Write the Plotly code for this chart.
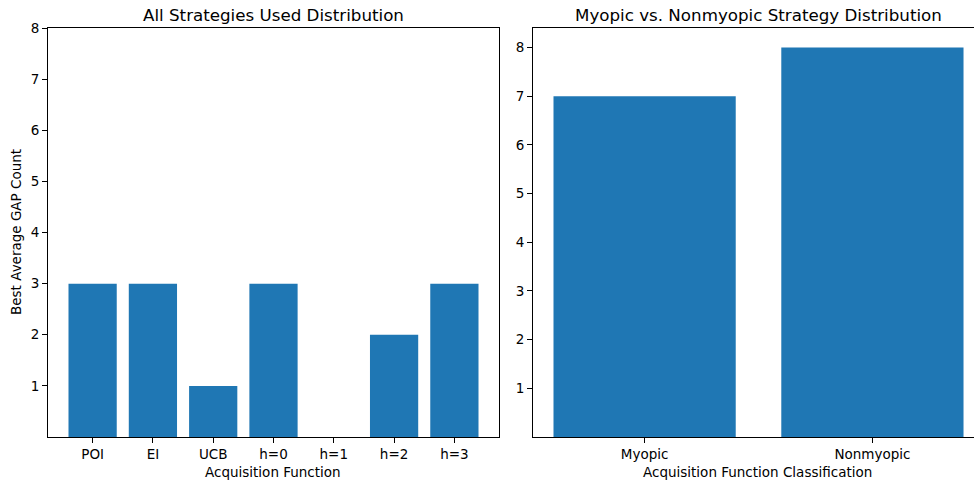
import plotly.graph_objects as go

# Data
strategies = ["POI", "EI", "UCB", "h=0", "h=1", "h=2", "h=3"]
strategy_counts = [3, 3, 1, 3, 0, 2, 3]
classes = ["Myopic", "Nonmyopic"]
class_counts = [7, 8]
y_ticks = [1, 2, 3, 4, 5, 6, 7, 8]

W, H = 974, 481
BLUE = "#1f77b4"
FONT = "DejaVu Sans"

def px_x(p):
    return p / W

def px_y(p):
    return 1 - p / H

fig = go.Figure()
fig.add_trace(go.Bar(x=list(range(len(strategies))), y=strategy_counts, width=0.8,
                     marker=dict(color=BLUE, line=dict(width=0)), xaxis="x", yaxis="y",
                     showlegend=False))
fig.add_trace(go.Bar(x=list(range(len(classes))), y=class_counts, width=0.8,
                     marker=dict(color=BLUE, line=dict(width=0)), xaxis="x2", yaxis="y2",
                     showlegend=False))

ydom = [px_y(437), px_y(28)]
axis_common = dict(showgrid=False, zeroline=False, showline=True, linecolor="black",
                   linewidth=1.1, ticks="outside", ticklen=5, tickwidth=1.1,
                   tickcolor="black", automargin=False,
                   tickfont=dict(family=FONT, size=13.5, color="black"))

fig.update_layout(
    template="none",
    width=W, height=H,
    margin=dict(l=0, r=0, t=0, b=0, pad=0),
    plot_bgcolor="white", paper_bgcolor="white",
    font=dict(family=FONT, color="black"),
    xaxis=dict(domain=[px_x(48), px_x(499)], range=[-0.74, 6.74], anchor="y",
               tickvals=list(range(len(strategies))), ticktext=strategies,
               mirror=True, **axis_common),
    yaxis=dict(domain=ydom, range=[0, 8], anchor="x", tickvals=y_ticks,
               mirror=True, **axis_common),
    xaxis2=dict(domain=[px_x(533), 1.0], range=[-0.49, 1.446], anchor="y2",
                tickvals=list(range(len(classes))), ticktext=classes,
                mirror=True, **axis_common),
    yaxis2=dict(domain=ydom, range=[0, 8.4], anchor="x2", tickvals=y_ticks,
                mirror=False, **axis_common),
)

annos = [
    dict(text="All Strategies Used Distribution", x=px_x(273), y=px_y(15), size=16.7),
    dict(text="Myopic vs. Nonmyopic Strategy Distribution", x=px_x(758), y=px_y(15), size=16.7),
    dict(text="Acquisition Function", x=px_x(273), y=px_y(472), size=13.5),
    dict(text="Acquisition Function Classification", x=px_x(757), y=px_y(472), size=13.5),
]
for a in annos:
    fig.add_annotation(text=a["text"], x=a["x"], y=a["y"], xref="paper", yref="paper",
                       showarrow=False, xanchor="center", yanchor="middle",
                       font=dict(family=FONT, size=a["size"], color="black"))
fig.add_annotation(text="Best Average GAP Count", x=px_x(16), y=px_y(232), xref="paper",
                   yref="paper", showarrow=False, textangle=-90, xanchor="center",
                   yanchor="middle", font=dict(family=FONT, size=13.5, color="black"))

fig.write_html("out.html", config={"displayModeBar": False},
               post_script="document.body.style.margin='0';document.body.style.overflow='hidden';")
